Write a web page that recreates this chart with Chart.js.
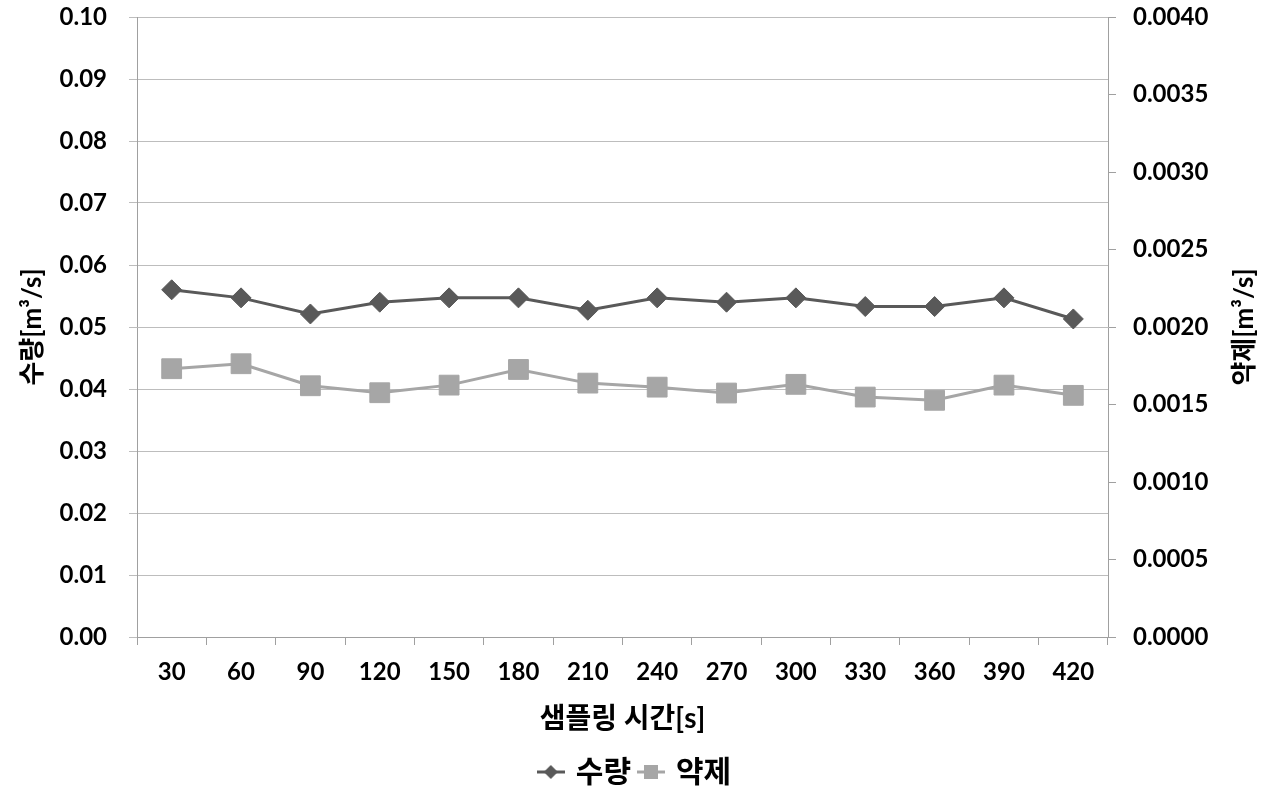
<!DOCTYPE html>
<html>
<head>
<meta charset="utf-8">
<script src="https://cdn.jsdelivr.net/npm/chart.js@4.4.0/dist/chart.umd.min.js"></script>
<style>
  html, body { margin: 0; padding: 0; background: #fff; }
  #wrap { width: 1272px; height: 797px; }
</style>
</head>
<body>
<div id="wrap"><canvas id="chart"></canvas></div>
<script>
// sampling time categories [s]
const times = ['30', '60', '90', '120', '150', '180', '210', '240', '270', '300', '330', '360', '390', '420'];
// 수량 (water flow) [m3/s], left axis
const waterFlow = [0.0560, 0.0547, 0.0521, 0.0540, 0.0547, 0.0547, 0.0527, 0.0547, 0.0540, 0.0547, 0.0533, 0.0533, 0.0547, 0.0513];
// 약제 (chemical flow) [m3/s], right axis
const chemFlow = [0.001731, 0.001763, 0.001621, 0.001576, 0.001625, 0.001726, 0.001638, 0.001612, 0.001574, 0.001630, 0.001548, 0.001527, 0.001625, 0.001559];

const leftRange = [0, 0.10, 0.01];
const rightRange = [0, 0.0040, 0.0005];
const rightTitle = '약제[m³/s]';

const FONT = "Lato, 'Noto Sans CJK KR', sans-serif";
const DARK = '#595959';
const LIGHT = '#a6a6a6';
const AXIS = '#a0a0a0';
const GRID = '#bdbdbd';

// legend marker: short line with the point style on it
function legendIcon(color, shape) {
    const c = document.createElement('canvas');
    c.width = 28; c.height = 22;
    const g = c.getContext('2d');
    g.strokeStyle = color;
    g.lineWidth = 3;
    g.beginPath(); g.moveTo(0, 11); g.lineTo(28, 11); g.stroke();
    g.fillStyle = color;
    g.beginPath();
    if (shape === 'diamond') {
        g.moveTo(14, 4); g.lineTo(21, 11); g.lineTo(14, 18); g.lineTo(7, 11);
    } else {
        g.rect(7, 4, 14, 14);
    }
    g.closePath(); g.fill();
    return c;
}
const icons = [legendIcon(DARK, 'diamond'), legendIcon(LIGHT, 'square')];

// right axis title reads bottom-to-top like the left one
const rightTitlePlugin = {
    id: 'rightTitle',
    afterDraw(chart) {
        const { ctx, chartArea } = chart;
        ctx.save();
        ctx.translate(1245, (chartArea.top + chartArea.bottom) / 2);
        ctx.rotate(-Math.PI / 2);
        ctx.font = "bold 26px " + FONT;
        ctx.fillStyle = '#000';
        ctx.textAlign = 'center';
        ctx.textBaseline = 'middle';
        ctx.fillText(rightTitle, 0, 0);
        ctx.restore();
    }
};

// fixed box sizes so the plot area sits where the original one does
function fitY(width) {
    return s => { s.width = width; s.paddingTop = 17; s.paddingBottom = 10; };
}

new Chart(document.getElementById('chart'), {
    type: 'line',
    data: {
        labels: times,
        datasets: [
            {
                label: '수량',
                data: waterFlow,
                yAxisID: 'y',
                borderColor: DARK,
                backgroundColor: DARK,
                borderWidth: 3,
                pointStyle: 'rectRot',
                pointRadius: 10,
                pointBorderWidth: 1,
                tension: 0
            },
            {
                label: '약제',
                data: chemFlow,
                yAxisID: 'y1',
                borderColor: LIGHT,
                backgroundColor: LIGHT,
                borderWidth: 3,
                pointStyle: 'rect',
                pointRadius: 14,
                pointBorderWidth: 1,
                tension: 0
            }
        ]
    },
    plugins: [rightTitlePlugin],
    options: {
        responsive: true,
        maintainAspectRatio: false,
        animation: false,
        layout: { padding: 0 },
        plugins: {
            tooltip: { enabled: false },
            legend: {
                position: 'bottom',
                labels: {
                    color: '#000',
                    font: { family: FONT, size: 30, weight: 'bold' },
                    usePointStyle: true,
                    pointStyleWidth: 20,
                    padding: 10,
                    generateLabels: chart => chart.data.datasets.map((ds, i) => ({
                        text: ds.label,
                        pointStyle: icons[i],
                        fillStyle: ds.backgroundColor,
                        strokeStyle: ds.borderColor,
                        lineWidth: 0,
                        fontColor: '#000',
                        datasetIndex: i
                    }))
                }
            }
        },
        scales: {
            x: {
                offset: true,
                border: { color: AXIS, width: 1 },
                grid: { offset: true, drawOnChartArea: false, color: AXIS, tickLength: 8 },
                ticks: { color: '#000', padding: 13, maxRotation: 0, font: { family: FONT, size: 24, weight: 'bold' } },
                title: {
                    display: true,
                    text: '샘플링 시간[s]',
                    color: '#000',
                    font: { family: FONT, size: 28, weight: 'bold' },
                    padding: { top: 0, bottom: 11 }
                },
                afterFit: s => { s.height = 110; }
            },
            y: {
                position: 'left',
                min: leftRange[0], max: leftRange[1],
                border: { color: AXIS, width: 1 },
                grid: { color: GRID, tickLength: 8 },
                ticks: {
                    stepSize: leftRange[2],
                    color: '#000', padding: 22,
                    font: { family: FONT, size: 24, weight: 'bold' },
                    callback: v => v.toFixed(2)
                },
                title: {
                    display: true,
                    text: '수량[m³/s]',
                    color: '#000',
                    font: { family: FONT, size: 26, weight: 'bold' },
                    padding: { top: 17, bottom: 0 }
                },
                afterFit: fitY(137)
            },
            y1: {
                position: 'right',
                min: rightRange[0], max: rightRange[1],
                border: { color: AXIS, width: 1 },
                grid: { drawOnChartArea: false, color: AXIS, tickLength: 8 },
                ticks: {
                    stepSize: rightRange[2],
                    color: '#000', padding: 17,
                    font: { family: FONT, size: 24, weight: 'bold' },
                    callback: v => v.toFixed(4)
                },
                afterFit: fitY(164)
            }
        }
    }
});
</script>
</body>
</html>
